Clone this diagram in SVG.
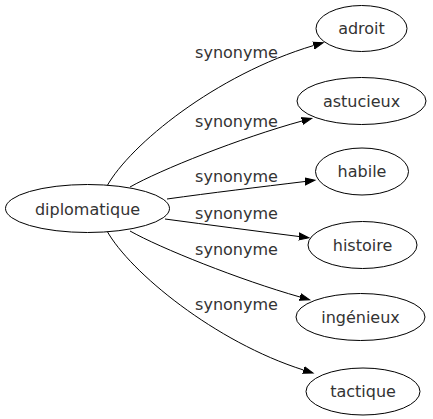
<svg xmlns="http://www.w3.org/2000/svg" width="433" height="419" viewBox="0 0 433 419">
<style>
.node ellipse{fill:#fff;stroke:#000;stroke-width:1}
text{font-family:"DejaVu Sans",sans-serif;font-size:16px;fill:#333;text-anchor:middle}
.edge path{fill:none;stroke:#000;stroke-width:1}
</style>
<defs>
<marker id="arr" markerUnits="userSpaceOnUse" markerWidth="12" markerHeight="10" refX="0" refY="4" orient="auto" viewBox="0 -1 12 10">
<path d="M0,0.5 L10,4 L0,7.5 Z" fill="#000" stroke="#000" stroke-width="1"/>
</marker>
</defs>
<rect width="433" height="419" fill="#fff"/>
<g id="edges" class="edge">
<path d="M107,186 C130,145 215,75 313.6,45.5" marker-end="url(#arr)"/>
<path d="M130,187 C160,170 240,138 302,121" marker-end="url(#arr)"/>
<path d="M167,199 C210,193 260,187 305,181.5" marker-end="url(#arr)"/>
<path d="M165,219 C210,225 255,231 299,236.5" marker-end="url(#arr)"/>
<path d="M130,231 C160,248 240,280 300,297" marker-end="url(#arr)"/>
<path d="M107,231 C130,272 215,342 303.5,370" marker-end="url(#arr)"/>
<text x="236.5" y="57.5">synonyme</text>
<text x="236.5" y="127">synonyme</text>
<text x="236.5" y="181.5">synonyme</text>
<text x="236.5" y="219">synonyme</text>
<text x="236.5" y="254.5">synonyme</text>
<text x="236.5" y="309.5">synonyme</text>
</g>
<g id="diplomatique" class="node"><ellipse cx="87.5" cy="208.5" rx="82" ry="24"/><text x="87.5" y="214.5">diplomatique</text></g>
<g id="adroit" class="node"><ellipse cx="361.5" cy="28.5" rx="45.5" ry="23"/><text x="361.5" y="34">adroit</text></g>
<g id="astucieux" class="node"><ellipse cx="361.5" cy="101" rx="64.5" ry="23.5"/><text x="361.5" y="106.5">astucieux</text></g>
<g id="habile" class="node"><ellipse cx="362" cy="171.5" rx="46.5" ry="23.5"/><text x="362" y="177">habile</text></g>
<g id="histoire" class="node"><ellipse cx="362.5" cy="245" rx="54.5" ry="23.5"/><text x="362.5" y="250.5">histoire</text></g>
<g id="ingenieux" class="node"><ellipse cx="360.5" cy="317" rx="64.5" ry="23.5"/><text x="360.5" y="322.5">ingénieux</text></g>
<g id="tactique" class="node"><ellipse cx="363" cy="391.5" rx="57" ry="23.5"/><text x="363" y="397">tactique</text></g>
</svg>
